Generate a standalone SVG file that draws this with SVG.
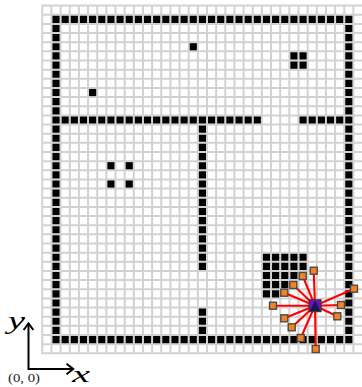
<svg xmlns="http://www.w3.org/2000/svg" width="362" height="387" viewBox="0 0 362 387">
<defs>
<style>
.grid{fill:none;stroke:#d2d2d2;stroke-width:2}
.w{fill:none;stroke:#000;stroke-width:7.15;stroke-dasharray:7.15 2}
.c{fill:#000}
.con{stroke:#f00;stroke-width:2.1}
.n{fill:#f58220;stroke:#4a4a4a;stroke-width:1.4}
.axis{fill:none;stroke:#000;stroke-width:2}
.m{font-family:"Liberation Serif","DejaVu Serif",serif;font-style:italic;fill:#000}
.o{font-family:"Liberation Serif","DejaVu Serif",serif;fill:#222}
</style>
<rect id="cell" class="c" width="7.15" height="7.15"/>
<rect id="s" class="n" x="-3.5" y="-3.5" width="7" height="7"/>
</defs>
<rect width="362" height="387" fill="#fff"/>
<path class="grid" d="M42.3 5.6V353.3M51.45 5.6V353.3M60.6 5.6V353.3M69.75 5.6V353.3M78.9 5.6V353.3M88.05 5.6V353.3M97.2 5.6V353.3M106.35 5.6V353.3M115.5 5.6V353.3M124.65 5.6V353.3M133.8 5.6V353.3M142.95 5.6V353.3M152.1 5.6V353.3M161.25 5.6V353.3M170.4 5.6V353.3M179.55 5.6V353.3M188.7 5.6V353.3M197.85 5.6V353.3M207 5.6V353.3M216.15 5.6V353.3M225.3 5.6V353.3M234.45 5.6V353.3M243.6 5.6V353.3M252.75 5.6V353.3M261.9 5.6V353.3M271.05 5.6V353.3M280.2 5.6V353.3M289.35 5.6V353.3M298.5 5.6V353.3M307.65 5.6V353.3M316.8 5.6V353.3M325.95 5.6V353.3M335.1 5.6V353.3M344.25 5.6V353.3M353.4 5.6V353.3M41.3 5.6H362M41.3 14.75H362M41.3 23.9H362M41.3 33.05H362M41.3 42.2H362M41.3 51.35H362M41.3 60.5H362M41.3 69.65H362M41.3 78.8H362M41.3 87.95H362M41.3 97.1H362M41.3 106.25H362M41.3 115.4H362M41.3 124.55H362M41.3 133.7H362M41.3 142.85H362M41.3 152H362M41.3 161.15H362M41.3 170.3H362M41.3 179.45H362M41.3 188.6H362M41.3 197.75H362M41.3 206.9H362M41.3 216.05H362M41.3 225.2H362M41.3 234.35H362M41.3 243.5H362M41.3 252.65H362M41.3 261.8H362M41.3 270.95H362M41.3 280.1H362M41.3 289.25H362M41.3 298.4H362M41.3 307.55H362M41.3 316.7H362M41.3 325.85H362M41.3 335H362M41.3 344.15H362M41.3 353.3H362"/>
<g id="obstacles">
<path class="w" d="M52.45 19.325H352.4M52.45 339.575H352.4M56.025 15.75V343.15M348.825 15.75V343.15M61.6 119.975H260.9M299.5 119.975H352.4M202.425 125.55V269.95M202.425 308.55V334M262.9 257.225H306.65M262.9 266.375H306.65M262.9 275.525H297.5M262.9 284.675H288.35M262.9 293.825H279.2M290.35 55.925H306.65M290.35 65.075H306.65"/>
<use href="#cell" x="189.7" y="43.2"/>
<use href="#cell" x="89.05" y="88.95"/>
<use href="#cell" x="107.35" y="162.15"/>
<use href="#cell" x="125.65" y="162.15"/>
<use href="#cell" x="107.35" y="180.45"/>
<use href="#cell" x="125.65" y="180.45"/>
</g>
<g id="connectors">
<line class="con" x1="315" y1="305.7" x2="313.7" y2="270.7"/>
<line class="con" x1="315" y1="305.7" x2="302.7" y2="276"/>
<line class="con" x1="315" y1="305.7" x2="293.3" y2="285"/>
<line class="con" x1="315" y1="305.7" x2="284.3" y2="292.7"/>
<line class="con" x1="315" y1="305.7" x2="273" y2="305.7"/>
<line class="con" x1="315" y1="305.7" x2="284.3" y2="318.3"/>
<line class="con" x1="315" y1="305.7" x2="291.7" y2="327.3"/>
<line class="con" x1="315" y1="305.7" x2="300.7" y2="338"/>
<line class="con" x1="315" y1="305.7" x2="315.7" y2="349"/>
<line class="con" x1="315" y1="305.7" x2="337.3" y2="316.3"/>
<line class="con" x1="315" y1="305.7" x2="341" y2="305"/>
<line class="con" x1="315" y1="305.7" x2="354" y2="288.7"/>
</g>
<g id="n1"><use href="#s" x="313.7" y="270.7"/></g>
<g id="n2"><use href="#s" x="302.7" y="276"/></g>
<g id="n3"><use href="#s" x="293.3" y="285"/></g>
<g id="n4"><use href="#s" x="284.3" y="292.7"/></g>
<g id="n5"><use href="#s" x="273" y="305.7"/></g>
<g id="n6"><use href="#s" x="284.3" y="318.3"/></g>
<g id="n7"><use href="#s" x="291.7" y="327.3"/></g>
<g id="n8"><use href="#s" x="300.7" y="338"/></g>
<g id="n9"><use href="#s" x="315.7" y="349"/></g>
<g id="n10"><use href="#s" x="337.3" y="316.3"/></g>
<g id="n11"><use href="#s" x="341" y="305"/></g>
<g id="n12"><use href="#s" x="354" y="288.7"/></g>
<g id="robot">
<rect x="309.2" y="299.8" width="11.8" height="11.8" fill="#6a10c8" stroke="#3a3a3a" stroke-width="1.2"/>
<polygon points="315.1,300.5 309.8,311 320.4,311" fill="#1c1650"/>
</g>
<g id="axes">
<path class="axis" d="M28.5 323.5V369H73"/>
<path class="axis" d="M23.6 330L28.5 323.5L33.4 330M66.5 363.8L73.2 369L66.5 374.2"/>
<text class="m" x="8" y="329" font-size="26" textLength="17" lengthAdjust="spacingAndGlyphs">y</text>
<text class="m" x="72" y="382" font-size="23.5" textLength="18" lengthAdjust="spacingAndGlyphs">x</text>
<text class="o" x="8" y="381.5" font-size="12.5" textLength="32" lengthAdjust="spacingAndGlyphs">(0, 0)</text>
</g>
</svg>
